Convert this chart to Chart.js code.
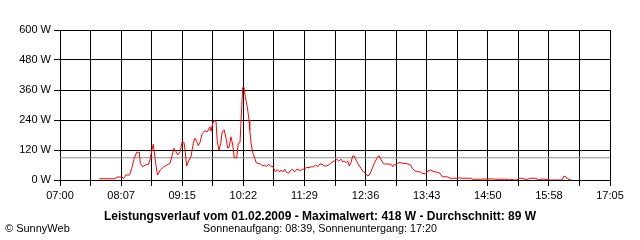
<!DOCTYPE html>
<html>
<head>
<meta charset="utf-8">
<script src="https://cdn.jsdelivr.net/npm/chart.js@4/dist/chart.umd.min.js"></script>
<style>
html,body{margin:0;padding:0;background:#fff;}
#c{display:block;}
</style>
</head>
<body>
<canvas id="c" width="640" height="240"></canvas>
<script>
// ---- data ----
const timeLabels = ['07:00','08:07','09:15','10:22','11:29','12:36','13:43','14:50','15:58','17:05'];
const spanMinutes = 605; // 07:00 .. 17:05
const gridDivisions = 18;
const yMax = 600;
const yStep = 120;
const averageW = 89;
// minutes after 07:00
const minutes = [43.2,60.5,62.7,68.2,69.9,72.6,76.5,78.9,81.7,84.4,
87.2,88.3,91.0,93.8,97.1,99.0,100.9,102.6,103.4,105.3,
107.3,110.3,113.9,117.5,121.0,123.5,125.4,127.6,129.5,132.0,
134.5,136.4,137.5,139.4,141.9,144.1,146.6,148.5,150.4,152.1,
154.0,156.5,159.5,162.0,165.0,166.1,168.0,169.4,171.6,173.0,
174.9,176.8,178.5,180.7,182.6,184.5,186.2,188.1,190.0,191.7,
194.4,196.1,198.0,199.9,201.0,202.4,203.8,206.0,207.9,208.7,
210.4,212.3,214.2,215.9,217.8,220.8,223.3,225.2,226.9,229.6,
231.8,234.3,236.8,239.0,241.7,243.4,245.3,247.2,248.9,251.6,
253.3,255.5,258.2,260.4,262.9,264.8,266.5,269.2,270.9,273.9,
276.4,279.1,281.3,283.5,285.7,288.2,290.4,292.9,296.2,299.2,
301.7,304.4,306.6,309.1,311.0,312.7,314.6,316.5,318.2,320.1,
322.0,323.7,325.6,327.5,329.2,331.1,333.6,335.8,338.5,340.2,
342.1,344.0,345.7,347.6,349.5,351.2,353.1,355.0,356.7,360.5,
364.1,366.0,367.7,369.6,371.5,374.0,375.9,378.4,382.8,385.8,
387.5,390.2,393.0,396.0,398.5,402.3,404.8,407.8,411.4,415.0,
418.0,420.5,426.0,429.0,437.0,438.9,440.8,451.8,453.5,462.8,
466.4,471.9,475.5,477.4,488.4,491.7,493.9,497.2,499.4,502.7,
504.9,509.3,511.5,514.8,516.5,523.6,525.8,529.1,536.8,539.0,
552.2,554.4,556.6,558.8,562.1];
const watts = [5,5,12,12,6,20,20,47,87,111,
111,67,53,60,62,80,117,143,120,65,
20,40,52,60,67,100,127,113,100,113,
153,150,120,56,80,93,147,167,153,137,
151,187,197,193,213,195,227,237,235,153,
120,147,193,200,167,127,133,173,140,89,
89,147,150,293,371,371,333,293,240,200,
140,107,87,69,67,63,56,60,53,63,
56,53,33,40,33,40,33,43,31,27,
37,43,33,43,40,37,43,44,51,49,
53,53,60,53,64,64,56,56,62,71,
76,83,76,83,73,76,69,76,56,71,
96,96,80,67,56,47,33,27,16,20,
33,51,67,80,93,96,83,69,64,64,
63,53,63,60,67,71,67,67,64,60,
47,37,33,33,27,24,37,40,33,31,
27,13,13,7,7,9,7,7,3,3,
4,4,5,3,3,3,0,3,0,0,
7,7,3,3,7,7,0,3,3,0,
0,16,12,3,3];
const titleText = 'Leistungsverlauf vom 01.02.2009 - Maximalwert: 418 W - Durchschnitt: 89 W';
const subText = 'Sonnenaufgang: 08:39, Sonnenuntergang: 17:20';
const copyText = '\u00A9 SunnyWeb';

const FONT = "'Liberation Sans', Arial, sans-serif";

const textPlugin = {
  id: 'texts',
  afterDraw(chart) {
    const ctx = chart.ctx;
    ctx.save();
    ctx.fillStyle = '#000';
    ctx.textBaseline = 'middle';
    ctx.textAlign = 'center';
    ctx.font = 'bold 12px ' + FONT;
    ctx.fillText(titleText, 320, 217, 434);
    ctx.font = '11px ' + FONT;
    ctx.fillText(subText, 320, 229, 234);
    ctx.textAlign = 'left';
    ctx.fillText(copyText, 5, 229, 66);
    ctx.restore();
  }
};

new Chart(document.getElementById('c'), {
  type: 'line',
  data: {
    datasets: [
      {
        data: minutes.map((m, i) => ({x: m, y: watts[i]})),
        borderColor: '#ff0000',
        borderWidth: 1,
        pointRadius: 0,
        tension: 0,
        fill: false
      },
      {
        data: [{x: 0, y: averageW}, {x: spanMinutes, y: averageW}],
        borderColor: '#8c8c8c',
        borderWidth: 1,
        pointRadius: 0,
        fill: false
      }
    ]
  },
  options: {
    responsive: false,
    animation: false,
    devicePixelRatio: 1,
    layout: {padding: {top: 30, right: 30, left: 0, bottom: 0}},
    plugins: {legend: {display: false}, tooltip: {enabled: false}, title: {display: false}},
    scales: {
      x: {
        type: 'linear',
        min: 0,
        max: spanMinutes,
        afterBuildTicks(s) {
          const t = [];
          for (let i = 0; i <= gridDivisions; i++) t.push({value: i * spanMinutes / gridDivisions});
          s.ticks = t;
        },
        afterFit(s) { s.height = 60; },
        grid: {color: '#000', lineWidth: 1, tickLength: 6, drawOnChartArea: true},
        border: {color: '#000', width: 1},
        ticks: {
          autoSkip: false,
          maxRotation: 0,
          color: '#000',
          padding: 3,
          font: {family: FONT, size: 11},
          callback: (v, i) => (i % 2 === 0 ? timeLabels[i / 2] : '')
        }
      },
      y: {
        min: 0,
        max: yMax,
        z: 1,
        afterFit(s) { s.width = 60; },
        grid: {color: '#000', lineWidth: 1, tickLength: 6},
        border: {color: '#000', width: 1},
        ticks: {
          stepSize: yStep,
          color: '#000',
          padding: 3,
          font: {family: FONT, size: 11},
          callback: v => v + ' W'
        }
      }
    }
  },
  plugins: [textPlugin]
});
</script>
</body>
</html>
